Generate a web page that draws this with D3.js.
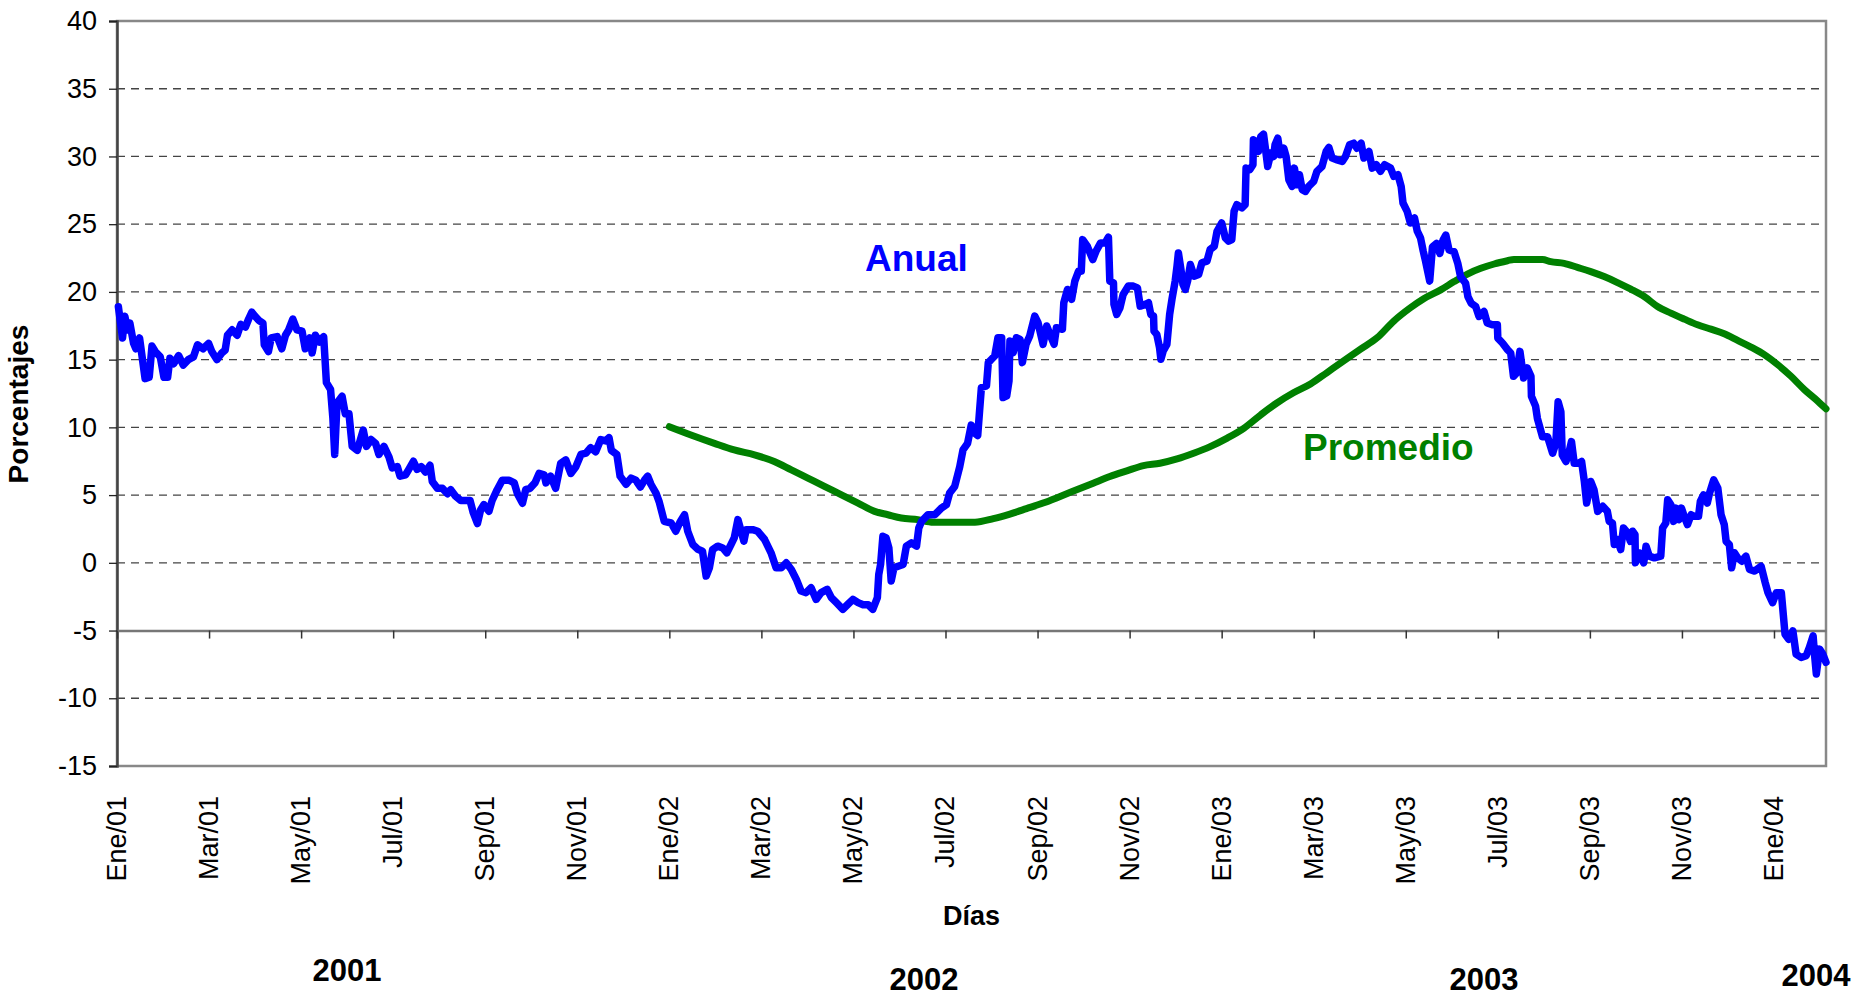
<!DOCTYPE html>
<html>
<head>
<meta charset="utf-8">
<script src="https://cdn.jsdelivr.net/npm/d3@7"></script>
<style>
  body { margin: 0; background: #fff; }
  svg text { font-family: "Liberation Sans", Arial, sans-serif; }
</style>
</head>
<body>
<div id="chart"></div>
<script>
// Data: x = months since Ene/01, y = percent
const monthLabels = ["Ene/01","Mar/01","May/01","Jul/01","Sep/01","Nov/01",
    "Ene/02","Mar/02","May/02","Jul/02","Sep/02","Nov/02",
    "Ene/03","Mar/03","May/03","Jul/03","Sep/03","Nov/03","Ene/04"];
const yearLabels = ["2001","2002","2003","2004"];

const anual = [
  [0.03,18.9],[0.12,16.6],[0.17,18.2],[0.23,17.2],[0.28,17.7],[0.36,16.2],[0.41,15.8],[0.49,16.6],[0.61,13.6],[0.70,13.7],
  [0.76,16.0],[0.83,15.6],[0.94,15.2],[1.02,13.7],[1.10,13.7],[1.15,15.1],[1.23,14.7],[1.34,15.3],[1.44,14.6],[1.55,15.0],
  [1.66,15.2],[1.75,16.1],[1.87,15.8],[1.99,16.2],[2.06,15.6],[2.17,15.0],[2.28,15.5],[2.35,15.7],[2.40,16.8],[2.50,17.2],
  [2.61,16.8],[2.69,17.6],[2.79,17.4],[2.86,18.0],[2.93,18.5],[3.00,18.2],[3.08,17.9],[3.17,17.7],[3.20,16.1],[3.29,15.6],
  [3.35,16.6],[3.48,16.7],[3.58,15.8],[3.66,16.8],[3.73,17.2],[3.82,18.0],[3.91,17.2],[4.02,17.1],[4.09,15.8],[4.19,16.6],
  [4.24,15.5],[4.31,16.8],[4.40,16.3],[4.49,16.7],[4.55,13.3],[4.64,12.8],[4.69,10.7],[4.73,8.0],[4.78,11.8],[4.89,12.3],
  [4.96,11.0],[5.04,11.0],[5.11,8.6],[5.22,8.3],[5.35,9.8],[5.42,8.6],[5.52,9.1],[5.62,8.8],[5.69,8.0],[5.80,8.6],
  [5.91,7.8],[5.98,7.0],[6.09,7.1],[6.15,6.4],[6.27,6.5],[6.34,6.9],[6.44,7.5],[6.52,6.9],[6.61,7.1],[6.70,6.7],
  [6.80,7.2],[6.85,6.0],[6.96,5.5],[7.07,5.5],[7.18,5.1],[7.25,5.4],[7.36,4.9],[7.47,4.6],[7.57,4.6],[7.67,4.6],
  [7.74,3.7],[7.83,2.9],[7.90,3.9],[7.97,4.3],[8.08,3.8],[8.15,4.6],[8.26,5.4],[8.37,6.1],[8.52,6.1],[8.63,5.9],
  [8.70,5.1],[8.81,4.4],[8.88,5.4],[8.97,5.5],[9.08,5.9],[9.17,6.6],[9.28,6.5],[9.32,5.9],[9.42,6.4],[9.53,5.5],
  [9.64,7.35],[9.75,7.6],[9.86,6.6],[9.97,7.1],[10.08,8.0],[10.19,8.1],[10.29,8.5],[10.40,8.2],[10.51,9.1],[10.62,9.0],
  [10.69,9.24],[10.74,8.3],[10.86,8.0],[10.93,6.4],[11.06,5.8],[11.17,6.25],[11.27,6.1],[11.37,5.6],[11.46,6.1],[11.53,6.4],
  [11.60,5.8],[11.71,5.15],[11.78,4.5],[11.89,3.06],[12.04,2.94],[12.14,2.33],[12.24,3.06],[12.33,3.55],[12.40,2.33],[12.51,1.35],
  [12.62,1.0],[12.72,0.86],[12.80,-0.98],[12.87,-0.37],[12.94,0.98],[13.05,1.23],[13.16,1.1],[13.25,0.74],[13.34,1.35],[13.41,1.84],
  [13.49,3.19],[13.56,2.33],[13.62,1.6],[13.67,2.45],[13.81,2.45],[13.92,2.33],[14.07,1.72],[14.21,0.74],[14.32,-0.37],[14.43,-0.37],
  [14.54,0.0],[14.65,-0.49],[14.76,-1.23],[14.86,-2.08],[14.97,-2.2],[15.08,-1.84],[15.19,-2.7],[15.30,-2.2],[15.43,-1.96],[15.52,-2.57],
  [15.63,-2.94],[15.77,-3.43],[15.88,-3.06],[15.99,-2.7],[16.10,-2.94],[16.21,-3.1],[16.32,-3.1],[16.42,-3.43],[16.52,-2.57],[16.55,-0.86],
  [16.59,-0.12],[16.64,1.96],[16.71,1.84],[16.77,1.1],[16.82,-1.35],[16.88,-0.37],[16.97,-0.25],[17.08,-0.12],[17.15,1.23],[17.26,1.47],
  [17.37,1.23],[17.42,2.57],[17.48,3.06],[17.62,3.55],[17.77,3.55],[17.91,4.04],[18.02,4.29],[18.09,5.15],[18.20,5.64],[18.31,7.1],
  [18.38,8.33],[18.48,8.82],[18.56,10.17],[18.64,9.56],[18.70,9.4],[18.74,11.2],[18.78,12.94],[18.89,13.06],[18.93,14.78],[19.00,15.03],
  [19.07,15.27],[19.14,16.62],[19.22,16.62],[19.25,12.2],[19.33,12.33],[19.38,13.43],[19.40,16.38],[19.47,15.52],[19.54,16.62],[19.62,16.5],
  [19.67,14.78],[19.75,16.13],[19.83,16.75],[19.94,18.22],[20.01,17.73],[20.12,16.13],[20.20,17.48],[20.27,16.87],[20.36,16.13],[20.41,17.36],
  [20.54,17.24],[20.57,19.2],[20.65,20.18],[20.74,19.45],[20.81,20.8],[20.89,21.53],[20.95,21.53],[20.98,23.86],[21.08,23.37],[21.20,22.39],
  [21.27,23.0],[21.37,23.62],[21.47,23.62],[21.54,24.04],[21.57,20.8],[21.65,20.67],[21.66,19.08],[21.72,18.34],[21.79,18.83],[21.86,19.81],
  [21.97,20.43],[22.08,20.43],[22.17,20.3],[22.23,18.95],[22.34,19.08],[22.41,19.2],[22.46,18.34],[22.52,18.22],[22.53,17.11],[22.59,16.87],
  [22.65,15.89],[22.68,15.03],[22.73,15.64],[22.81,16.13],[22.87,18.34],[22.92,19.45],[22.99,20.8],[23.03,21.9],[23.06,22.88],[23.11,21.78],
  [23.16,20.55],[23.21,20.18],[23.26,20.8],[23.32,22.02],[23.40,21.16],[23.50,21.29],[23.57,22.15],[23.68,22.27],[23.75,23.13],[23.84,23.37],
  [23.90,24.48],[24.00,25.09],[24.08,23.99],[24.15,23.74],[24.22,23.86],[24.27,25.95],[24.33,26.44],[24.44,26.2],[24.51,26.44],[24.53,29.14],
  [24.61,29.02],[24.68,29.39],[24.69,31.23],[24.75,31.1],[24.80,30.37],[24.85,31.47],[24.91,31.64],[24.95,30.61],[25.00,29.26],[25.07,30.25],
  [25.13,30.0],[25.16,30.86],[25.22,31.35],[25.27,30.12],[25.35,30.61],[25.40,30.0],[25.46,28.28],[25.53,27.79],[25.58,29.14],[25.64,27.91],
  [25.69,28.65],[25.75,27.55],[25.82,27.42],[25.89,27.79],[26.00,28.16],[26.07,28.9],[26.18,29.26],[26.27,30.37],[26.33,30.66],[26.40,29.88],
  [26.51,29.75],[26.62,29.63],[26.69,30.0],[26.78,30.86],[26.87,30.98],[26.94,30.61],[27.03,30.98],[27.09,29.88],[27.20,30.37],[27.27,29.14],
  [27.36,29.39],[27.45,28.9],[27.54,29.39],[27.67,29.14],[27.74,28.53],[27.83,28.65],[27.90,27.79],[27.94,26.56],[28.03,25.95],[28.10,25.09],
  [28.19,25.46],[28.25,24.48],[28.32,23.99],[28.38,23.0],[28.43,22.27],[28.52,20.8],[28.58,23.33],[28.67,23.58],[28.74,22.84],[28.81,23.82],
  [28.87,24.19],[28.94,23.09],[29.05,22.97],[29.13,22.11],[29.19,21.13],[29.30,20.64],[29.35,19.66],[29.42,19.17],[29.52,18.92],[29.59,18.19],
  [29.70,18.55],[29.77,17.7],[29.88,17.57],[29.99,17.57],[30.00,16.59],[30.10,16.23],[30.21,15.74],[30.28,15.49],[30.34,13.77],[30.41,14.02],
  [30.48,15.61],[30.56,13.65],[30.64,14.39],[30.72,13.77],[30.73,12.3],[30.82,11.57],[30.86,10.66],[30.97,9.31],[31.08,9.31],[31.19,8.09],
  [31.26,8.82],[31.31,11.89],[31.37,11.15],[31.40,7.97],[31.48,7.48],[31.55,8.21],[31.60,8.95],[31.66,7.35],[31.75,7.35],[31.82,7.48],
  [31.88,6.0],[31.93,4.41],[32.02,6.0],[32.09,5.39],[32.17,3.8],[32.28,4.17],[32.38,3.8],[32.42,3.06],[32.49,2.94],[32.53,1.35],
  [32.60,1.72],[32.67,0.98],[32.73,2.57],[32.82,2.21],[32.88,1.59],[32.93,2.33],[32.98,2.08],[32.99,0.0],[33.07,0.74],[33.17,0.0],
  [33.22,1.23],[33.29,0.49],[33.40,0.37],[33.54,0.49],[33.58,2.57],[33.65,2.94],[33.69,4.66],[33.76,4.29],[33.82,3.06],[33.87,4.04],
  [33.94,3.19],[33.99,4.04],[34.05,3.43],[34.12,2.82],[34.20,3.55],[34.27,3.43],[34.36,3.43],[34.40,4.53],[34.47,5.02],[34.55,4.41],
  [34.60,5.15],[34.69,6.13],[34.78,5.51],[34.85,3.55],[34.92,2.82],[34.96,1.59],[35.03,1.35],[35.08,-0.37],[35.14,0.74],[35.21,0.37],
  [35.30,0.12],[35.39,0.49],[35.47,-0.49],[35.58,-0.61],[35.72,-0.25],[35.81,-1.47],[35.87,-2.21],[35.97,-2.94],[36.05,-2.21],[36.16,-2.21],
  [36.24,-5.27],[36.32,-5.64],[36.41,-5.02],[36.48,-6.74],[36.59,-6.99],[36.70,-6.86],[36.77,-6.25],[36.85,-5.39],[36.88,-6.74],[36.92,-8.21],
  [36.99,-6.37],[37.06,-6.74],[37.13,-7.35]
];

const promedio = [
  [12.0,10.05],[12.47,9.44],[12.98,8.82],[13.41,8.33],[13.85,7.97],[14.28,7.48],[14.65,6.86],[15.01,6.25],[15.37,5.64],[15.74,5.02],
  [16.10,4.41],[16.46,3.8],[16.75,3.55],[17.04,3.31],[17.40,3.19],[17.73,3.0],[18.06,3.0],[18.35,3.0],[18.64,3.0],[19.04,3.26],
  [19.40,3.6],[19.76,4.0],[20.12,4.41],[20.49,4.9],[20.85,5.39],[21.21,5.88],[21.57,6.37],[21.94,6.79],[22.30,7.18],[22.66,7.35],
  [23.03,7.67],[23.39,8.09],[23.75,8.58],[24.11,9.19],[24.48,9.93],[24.84,10.9],[25.20,11.8],[25.56,12.55],[25.93,13.2],[26.29,14.05],
  [26.65,14.9],[27.01,15.76],[27.38,16.62],[27.74,17.85],[28.10,18.83],[28.39,19.5],[28.76,20.15],[29.05,20.76],[29.34,21.32],[29.63,21.74],
  [29.92,22.06],[30.21,22.3],[30.35,22.4],[30.64,22.4],[30.97,22.4],[31.15,22.23],[31.44,22.11],[31.73,21.81],[32.02,21.5],[32.31,21.13],
  [32.60,20.69],[32.89,20.2],[33.18,19.66],[33.47,18.92],[33.76,18.43],[34.05,17.99],[34.34,17.57],[34.63,17.25],[34.92,16.91],[35.21,16.42],
  [35.50,15.93],[35.79,15.37],[36.08,14.63],[36.37,13.77],[36.66,12.79],[36.95,11.94],[37.13,11.37]
];

const width = 1865;
const height = 998;
const plot = {left: 117, right: 1826, top: 21, bottom: 766};

const svg = d3.select('#chart').append('svg')
    .attr('width', width)
    .attr('height', height);

let x = d3.scaleLinear().domain([0, 37.13]).range([plot.left, plot.right]);
let y = d3.scaleLinear().domain([-15, 40]).range([plot.bottom, plot.top]);

// gridlines
svg.append('g')
    .selectAll('line')
    .data(d3.range(-10, 40, 5).filter(v => v != -5))
    .enter().append('line')
    .attr('x1', plot.left).attr('x2', plot.right)
    .attr('y1', d => y(d)).attr('y2', d => y(d))
    .attr('stroke', '#444')
    .attr('stroke-width', 1.3)
    .attr('stroke-dasharray', '8,6');

// plot border
svg.append('rect')
    .attr('x', plot.left).attr('y', plot.top)
    .attr('width', plot.right - plot.left)
    .attr('height', plot.bottom - plot.top)
    .attr('fill', 'none')
    .attr('stroke', '#888')
    .attr('stroke-width', 2.5);

// y axis (plain hyphen for negatives, like the original)
let yAxis = d3.axisLeft(y)
    .tickValues(d3.range(-15, 41, 5))
    .tickFormat(d => String(d))
    .tickSize(8).tickPadding(12);
let gy = svg.append('g')
    .attr('transform', `translate(${plot.left}, 0)`)
    .call(yAxis);
gy.select('.domain').attr('stroke', '#444').attr('stroke-width', 2.5);
gy.selectAll('.tick line').attr('stroke', '#222').attr('stroke-width', 1.3);
gy.selectAll('.tick text')
    .attr('font-size', 27)
    .attr('fill', '#000')
    .style('font-family', '"Liberation Sans", Arial, sans-serif');

// x axis crossing at -5
let xAxis = d3.axisBottom(x).tickValues(d3.range(0, 37, 2)).tickSize(8).tickSizeOuter(0).tickFormat('');
let gx = svg.append('g')
    .attr('transform', `translate(0, ${y(-5)})`)
    .call(xAxis);
gx.select('.domain').attr('stroke', '#777').attr('stroke-width', 2.5);
gx.selectAll('.tick line').attr('stroke', '#333').attr('stroke-width', 1.5);

// month labels below the plot
svg.append('g')
    .selectAll('text')
    .data(monthLabels)
    .enter().append('text')
    .attr('transform', (d, i) => `translate(${x(i * 2) + 9}, 796) rotate(-90)`)
    .attr('text-anchor', 'end')
    .attr('font-size', 27)
    .attr('fill', '#000')
    .text(d => d);

// lines
let line = d3.line()
    .x(d => x(d[0]))
    .y(d => y(d[1]));

svg.append('path')
    .datum(promedio)
    .attr('d', line.curve(d3.curveMonotoneX))
    .attr('fill', 'none')
    .attr('stroke', '#008000')
    .attr('stroke-width', 7)
    .attr('stroke-linecap', 'round')
    .attr('stroke-linejoin', 'round');

svg.append('path')
    .datum(anual)
    .attr('d', line.curve(d3.curveLinear))
    .attr('fill', 'none')
    .attr('stroke', '#0000FF')
    .attr('stroke-width', 7.5)
    .attr('stroke-linecap', 'round')
    .attr('stroke-linejoin', 'round');

// series labels
svg.append('text')
    .attr('x', 865).attr('y', 271)
    .attr('font-size', 37).attr('font-weight', 'bold')
    .attr('fill', '#0000FF')
    .text('Anual');

svg.append('text')
    .attr('x', 1303).attr('y', 460)
    .attr('font-size', 37).attr('font-weight', 'bold')
    .attr('fill', '#008000')
    .text('Promedio');

// axis titles
svg.append('text')
    .attr('transform', 'translate(28, 404) rotate(-90)')
    .attr('text-anchor', 'middle')
    .attr('font-size', 28).attr('font-weight', 'bold')
    .text('Porcentajes');

svg.append('text')
    .attr('x', (plot.left + plot.right) / 2).attr('y', 925)
    .attr('text-anchor', 'middle')
    .attr('font-size', 27).attr('font-weight', 'bold')
    .text('Días');

// year labels
let yearPos = [[347, 981], [924, 990], [1484, 990], [1816, 986]];
svg.append('g')
    .selectAll('text')
    .data(yearLabels)
    .enter().append('text')
    .attr('x', (d, i) => yearPos[i][0])
    .attr('y', (d, i) => yearPos[i][1])
    .attr('text-anchor', 'middle')
    .attr('font-size', 31).attr('font-weight', 'bold')
    .text(d => d);
</script>
</body>
</html>
